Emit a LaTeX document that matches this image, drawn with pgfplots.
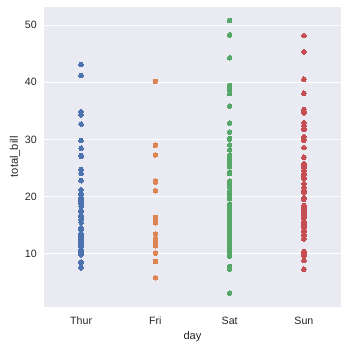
\documentclass[border=0pt]{standalone}
\usepackage{fontspec}
\setmainfont{Liberation Sans}
\usepackage{pgfplots}
\pgfplotsset{compat=1.18}
\definecolor{bgc}{HTML}{EAEAF2}
\definecolor{txt}{HTML}{262626}
\definecolor{c1}{HTML}{4C72B0}
\definecolor{c2}{HTML}{DD8452}
\definecolor{c3}{HTML}{55A868}
\definecolor{c4}{HTML}{C44E52}
\pgfplotsset{dot/.style={only marks, mark=*, mark size=2.4bp, color=#1, fill=#1, mark options={line width=0pt, draw=#1, fill=#1}}}
\begin{document}
\begin{tikzpicture}
\path[use as bounding box] (-45.5bp,-42.7bp) rectangle (314.5bp,317.3bp);
\begin{axis}[
  at={(0,0)}, anchor=south west,
  scale only axis, width=307.3bp, height=310.1bp,
  xmin=-0.5, xmax=3.5, ymin=0.68, ymax=53.2,
  axis background/.style={fill=bgc},
  axis line style={draw=none},
  xtick={0,1,2,3}, xticklabels={Thur,Fri,Sat,Sun},
  ytick={10,20,30,40,50},
  major tick length=0pt,
  ymajorgrids, grid style={white, line width=0.9bp},
  tick label style={font=\fontsize{11bp}{13bp}\selectfont, text=txt},
  /pgf/number format/assume math mode=true,
  xticklabel style={yshift=-7bp},
  yticklabel style={xshift=-4bp},
  label style={font=\fontsize{11.5bp}{13bp}\selectfont, text=txt},
  xlabel={day}, ylabel={total\_bill},
  xlabel style={yshift=0bp},
  ylabel style={yshift=-2bp},
]
\addplot[dot=c1] coordinates {
(0,27.20)(0,22.76)(0,17.29)(0,19.44)(0,16.66)(0,10.07)(0,32.68)(0,15.98)(0,34.83)(0,13.03)(0,18.28)(0,24.71)(0,21.16)
(0,10.65)(0,12.43)(0,24.08)(0,11.69)(0,13.42)(0,14.26)(0,15.95)(0,12.48)(0,29.80)(0,8.52)(0,14.52)(0,11.38)(0,22.82)
(0,19.08)(0,20.27)(0,11.17)(0,12.26)(0,18.26)(0,8.51)(0,10.33)(0,14.15)(0,16.00)(0,13.16)(0,17.47)(0,34.30)(0,41.19)
(0,27.05)(0,16.43)(0,8.35)(0,18.64)(0,11.87)(0,9.78)(0,7.51)(0,19.81)(0,28.44)(0,15.48)(0,16.58)(0,7.56)(0,10.34)
(0,43.11)(0,13.00)(0,13.51)(0,18.71)(0,12.74)(0,13.00)(0,16.40)(0,20.53)(0,16.47)(0,18.78)
};
\addplot[dot=c2] coordinates {
(1,28.97)(1,22.49)(1,5.75)(1,16.32)(1,22.75)(1,40.17)(1,27.28)(1,12.03)(1,21.01)(1,12.46)(1,11.35)(1,15.38)
(1,12.16)(1,13.42)(1,8.58)(1,15.98)(1,13.42)(1,16.27)(1,10.09)
};
\addplot[dot=c3] coordinates {
(2,20.65)(2,17.92)(2,20.29)(2,15.77)(2,39.42)(2,19.82)(2,17.81)(2,13.37)(2,12.69)(2,21.70)(2,19.65)(2,9.55)(2,18.35)
(2,15.06)(2,20.69)(2,17.78)(2,24.06)(2,16.31)(2,16.93)(2,18.69)(2,31.27)(2,16.04)(2,38.01)(2,26.41)(2,11.24)(2,48.27)
(2,20.29)(2,13.81)(2,11.02)(2,18.29)(2,17.59)(2,20.08)(2,16.45)(2,3.07)(2,20.23)(2,15.01)(2,12.02)(2,17.07)(2,26.86)
(2,25.28)(2,14.73)(2,10.51)(2,17.92)(2,44.30)(2,22.42)(2,20.92)(2,15.36)(2,20.49)(2,25.21)(2,18.24)(2,14.31)(2,14.00)
(2,7.25)(2,10.59)(2,10.63)(2,50.81)(2,15.81)(2,26.59)(2,38.73)(2,24.27)(2,12.76)(2,30.06)(2,25.89)(2,48.33)(2,13.27)
(2,28.17)(2,12.90)(2,28.15)(2,11.59)(2,7.74)(2,30.14)(2,20.45)(2,13.28)(2,22.12)(2,24.01)(2,15.69)(2,11.61)(2,10.77)
(2,15.53)(2,10.07)(2,12.60)(2,32.83)(2,35.83)(2,29.03)(2,27.18)(2,22.67)(2,17.82)
};
\addplot[dot=c4] coordinates {
(3,16.99)(3,10.34)(3,21.01)(3,23.68)(3,24.59)(3,25.29)(3,8.77)(3,26.88)(3,15.04)(3,14.78)(3,10.27)(3,35.26)(3,15.42)
(3,18.43)(3,14.83)(3,21.58)(3,10.33)(3,16.29)(3,16.97)(3,17.46)(3,13.94)(3,9.68)(3,30.40)(3,18.29)(3,22.23)(3,32.40)
(3,28.55)(3,18.04)(3,12.54)(3,10.29)(3,34.81)(3,9.94)(3,25.56)(3,19.49)(3,38.07)(3,23.95)(3,25.71)(3,17.31)(3,29.93)
(3,14.07)(3,13.13)(3,17.26)(3,24.55)(3,19.77)(3,29.85)(3,48.17)(3,25.00)(3,13.39)(3,16.49)(3,21.50)(3,12.66)(3,16.21)
(3,13.81)(3,17.51)(3,24.52)(3,20.76)(3,31.71)(3,7.25)(3,31.85)(3,16.82)(3,32.90)(3,17.89)(3,14.48)(3,9.60)(3,34.63)
(3,34.65)(3,23.33)(3,45.35)(3,23.17)(3,40.55)(3,20.69)(3,20.90)(3,30.46)(3,18.15)(3,23.10)(3,15.69)
};
\end{axis}
\end{tikzpicture}
\end{document}
